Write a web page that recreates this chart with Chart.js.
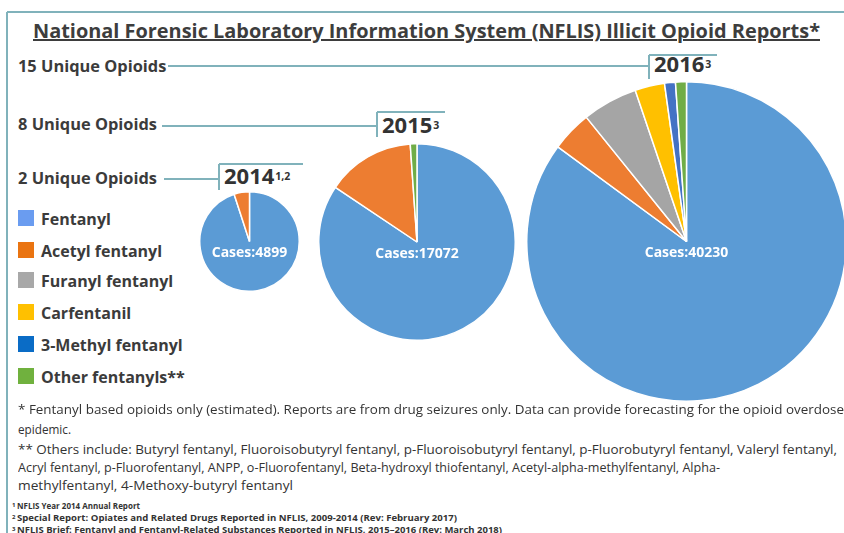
<!DOCTYPE html>
<html>
<head>
<meta charset="utf-8">
<script src="https://cdn.jsdelivr.net/npm/chart.js@4.4.1/dist/chart.umd.min.js"></script>
<style>
  html, body { margin: 0; padding: 0; background: #fff; }
  #stage { position: relative; width: 844px; height: 533px; overflow: hidden; background: #fff; }
  #stage canvas { position: absolute; }
  .txt { position: absolute; white-space: nowrap; line-height: 1; color: #3b3b3b;
         font-family: "Open Sans", "DejaVu Sans", sans-serif; transform-origin: 0 0; }
  .rule { position: absolute; background: #80b2bb; }
  .swatch { position: absolute; width: 16px; height: 16px; }
</style>
</head>
<body>
<div id="stage">
  <canvas id="pie2014" width="101" height="101" style="left:199px;top:191px"></canvas>
  <canvas id="pie2015" width="198" height="198" style="left:318px;top:143px"></canvas>
  <canvas id="pie2016" width="321" height="321" style="left:526px;top:81px"></canvas>
</div>
<script>
// NFLIS illicit opioid reports — three pies, share of cases by substance (%).

const categories = ['Fentanyl', 'Acetyl fentanyl', 'Furanyl fentanyl', 'Carfentanil', '3-Methyl fentanyl', 'Other fentanyls**'];
const years = ['2014', '2015', '2016'];
const yearNotes = ['1,2', '3', '3'];
const uniqueOpioids = [2, 8, 15];
const cases = [4899, 17072, 40230];

const share2014 = [95.0, 5.0, 0, 0, 0, 0];
const share2015 = [84.4, 14.5, 0, 0, 0, 1.1];
const share2016 = [85.1, 4.1, 5.6, 3.0, 1.1, 1.1];

const sliceColors  = ['#5b9bd5', '#ed7d31', '#a5a5a5', '#ffc000', '#4472c4', '#70ad47'];
const legendColors = ['#6a9cf0', '#ea7411', '#a8a8a8', '#ffc000', '#0a6cc6', '#70b13e'];

const footnotes = [
    '* Fentanyl based opioids only (estimated). Reports are from drug seizures only. Data can provide forecasting for the opioid overdose',
    'epidemic.',
    '** Others include: Butyryl fentanyl, Fluoroisobutyryl fentanyl, p-Fluoroisobutyryl fentanyl, p-Fluorobutyryl fentanyl, Valeryl fentanyl,',
    'Acryl fentanyl, p-Fluorofentanyl, ANPP, o-Fluorofentanyl, Beta-hydroxyl thiofentanyl, Acetyl-alpha-methylfentanyl, Alpha-',
    'methylfentanyl, 4-Methoxy-butyryl fentanyl',
];
const sources = [
    ['1', 'NFLIS Year 2014 Annual Report'],
    ['2', 'Special Report: Opiates and Related Drugs Reported in NFLIS, 2009-2014 (Rev: February 2017)'],
    ['3', 'NFLIS Brief: Fentanyl and Fentanyl-Related Substances Reported in NFLIS, 2015\u20132016 (Rev: March 2018)'],
];

const stage = document.getElementById('stage');

// place text by its baseline; optional width squeezes it horizontally
function text(str, x, base, size, opts = {}) {
    const el = document.createElement('div');
    el.className = 'txt';
    el.textContent = str;
    el.style.fontSize = size + 'px';
    el.style.fontWeight = opts.weight || 700;
    if (opts.color) el.style.color = opts.color;
    if (opts.underline) el.style.textDecoration = 'underline';
    el.style.left = x + 'px';
    el.style.top = (base - 0.888 * size) + 'px';
    stage.appendChild(el);
    if (opts.width) {
        const w = el.getBoundingClientRect().width;
        el.style.transform = `scaleX(${opts.width / w})`;
    }
    return el;
}

function hline(x1, x2, y) {
    const el = document.createElement('div');
    el.className = 'rule';
    Object.assign(el.style, { left: x1 + 'px', top: (y - 0.75) + 'px', width: (x2 - x1) + 'px', height: '1.5px' });
    stage.appendChild(el);
}
function vline(x, y1, y2) {
    const el = document.createElement('div');
    el.className = 'rule';
    Object.assign(el.style, { left: (x - 0.75) + 'px', top: y1 + 'px', width: '1.5px', height: (y2 - y1) + 'px' });
    stage.appendChild(el);
}

// frame
hline(7, 844, 12);
vline(7, 12, 533);

text('National Forensic Laboratory Information System (NFLIS) Illicit Opioid Reports*', 33, 39, 20,
     { width: 787, color: '#3d3d3d', underline: true });

// year brackets + leader lines
const bracket = [
    { labelBase: 185, line: 179, from: 164, x: 219, top: 164, bottom: 190, end: 303, yearX: 224, yearBase: 184 },
    { labelBase: 131, line: 126, from: 162, x: 377, top: 112, bottom: 137, end: 445, yearX: 382, yearBase: 133 },
    { labelBase: 73,  line: 66,  from: 168, x: 649, top: 55,  bottom: 79,  end: 717, yearX: 654, yearBase: 72 },
];
years.forEach((yr, i) => {
    const b = bracket[i];
    text(`${uniqueOpioids[i]} Unique Opioids`, 18, b.labelBase, 16.4);
    hline(b.from, b.x, b.line);
    vline(b.x, b.top, b.bottom);
    hline(b.x, b.end, b.top);
    const y = text(yr, b.yearX, b.yearBase, 22, { color: '#333' });
    const w = y.getBoundingClientRect().width;
    text(yearNotes[i], b.yearX + w + 1, b.yearBase - 4, 10.5, { color: '#333' });
});

// legend
const legendBase = [225, 257, 287, 319, 351, 383];
categories.forEach((c, i) => {
    const sw = document.createElement('div');
    sw.className = 'swatch';
    sw.style.left = '18px';
    sw.style.top = (legendBase[i] - 15) + 'px';
    sw.style.background = legendColors[i];
    stage.appendChild(sw);
    text(c, 41, legendBase[i], 16);
});

// notes
const noteBase = [415, 435, 455, 473, 491];
const noteWidth = [826, 53, 819, 702, 275];
footnotes.forEach((s, i) => text(s, 18, noteBase[i], 13, { weight: 400, width: noteWidth[i], color: '#333' }));
const srcBase = [510, 522, 534];
const srcWidth = [123, 440, 485];
sources.forEach(([n, s], i) => {
    text(n, 12, srcBase[i] - 3, 6, { color: '#333' });
    text(s, 17, srcBase[i], 8.8, { width: srcWidth[i], color: '#333' });
});

// "Cases: N" label in each pie
const casesLabel = {
    id: 'casesLabel',
    afterDraw(chart, args, opts) {
        const arc = chart.getDatasetMeta(0).data[0];
        const ctx = chart.ctx;
        ctx.save();
        ctx.fillStyle = '#fff';
        ctx.font = 'bold 14px "Open Sans", sans-serif';
        ctx.textAlign = 'center';
        ctx.textBaseline = 'middle';
        ctx.fillText(`Cases:${opts.count}`, arc.x, arc.y + 12);
        ctx.restore();
    },
};

function pie(id, values, count) {
    return new Chart(document.getElementById(id), {
        type: 'pie',
        data: {
            labels: categories,
            datasets: [{
                data: values,
                backgroundColor: sliceColors,
                borderColor: '#fff',
                borderWidth: ctx => (ctx.raw ? 1.5 : 0),
            }],
        },
        options: {
            responsive: false,
            animation: false,
            layout: { padding: 0 },
            plugins: {
                legend: { display: false },
                tooltip: { enabled: false },
                casesLabel: { count },
            },
        },
        plugins: [casesLabel],
    });
}

pie('pie2014', share2014, cases[0]);
pie('pie2015', share2015, cases[1]);
pie('pie2016', share2016, cases[2]);
</script>
</body>
</html>
